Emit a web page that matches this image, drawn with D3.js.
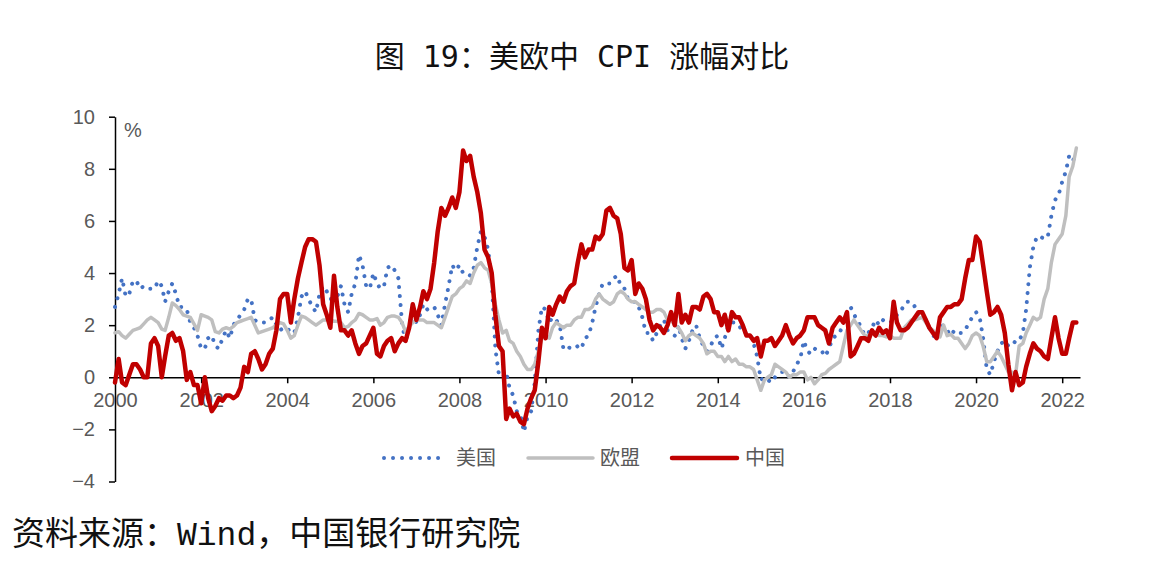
<!DOCTYPE html>
<html>
<head>
<meta charset="utf-8">
<script src="https://cdn.jsdelivr.net/npm/d3@7"></script>
<style>
  body { margin: 0; background: #fff; }
  text { fill: #595959; }
</style>
</head>
<body>
<div class="canvas"></div>
<script>
// monthly data, Jan 2000 - May 2022 (YoY %)
const start = new Date(2000, 0, 1);

const usCpi = [
  2.7, 3.2, 3.8, 3.1, 3.2, 3.7, 3.7, 3.4, 3.5, 3.4, 3.4, 3.4,
  3.7, 3.5, 2.9, 3.3, 3.6, 3.2, 2.7, 2.7, 2.6, 2.1, 1.9, 1.6,
  1.1, 1.1, 1.5, 1.6, 1.2, 1.1, 1.5, 1.8, 1.5, 2.0, 2.2, 2.4,
  2.6, 3.0, 3.0, 2.2, 2.1, 2.1, 2.1, 2.2, 2.3, 2.0, 1.8, 1.9,
  1.9, 1.7, 1.7, 2.3, 3.1, 3.3, 3.0, 2.7, 2.5, 3.2, 3.5, 3.3,
  3.0, 3.0, 3.1, 3.5, 2.8, 2.5, 3.2, 3.6, 4.7, 4.3, 3.5, 3.4,
  4.0, 3.6, 3.4, 3.5, 4.2, 4.3, 4.1, 3.8, 2.1, 1.3, 2.0, 2.5,
  2.1, 2.4, 2.8, 2.6, 2.7, 2.7, 2.4, 2.0, 2.8, 3.5, 4.3, 4.1,
  4.3, 4.0, 4.0, 3.9, 4.2, 5.0, 5.6, 5.4, 4.9, 3.7, 1.1, 0.1,
  0.0, 0.2, -0.4, -0.7, -1.3, -1.4, -2.1, -1.5, -1.3, -0.2, 1.8, 2.7,
  2.6, 2.1, 2.3, 2.2, 2.0, 1.1, 1.2, 1.1, 1.1, 1.2, 1.1, 1.5,
  1.6, 2.1, 2.7, 3.2, 3.6, 3.6, 3.6, 3.8, 3.9, 3.5, 3.4, 3.0,
  2.9, 2.9, 2.7, 2.3, 1.7, 1.7, 1.4, 1.7, 2.0, 2.2, 1.8, 1.7,
  1.6, 2.0, 1.5, 1.1, 1.4, 1.8, 2.0, 1.5, 1.2, 1.0, 1.2, 1.5,
  1.6, 1.1, 1.5, 2.0, 2.1, 2.1, 2.0, 1.7, 1.7, 1.7, 1.3, 0.8,
  -0.1, 0.0, -0.1, -0.2, 0.0, 0.1, 0.2, 0.2, 0.0, 0.2, 0.5, 0.7,
  1.4, 1.0, 0.9, 1.1, 1.0, 1.0, 0.8, 1.1, 1.5, 1.6, 1.7, 2.1,
  2.5, 2.7, 2.4, 2.2, 1.9, 1.6, 1.7, 1.9, 2.2, 2.0, 2.2, 2.1,
  2.1, 2.2, 2.4, 2.5, 2.8, 2.9, 2.9, 2.7, 2.3, 2.5, 2.2, 1.9,
  1.6, 1.5, 1.9, 2.0, 1.8, 1.6, 1.8, 1.7, 1.7, 1.8, 2.1, 2.3,
  2.5, 2.3, 1.5, 0.3, 0.1, 0.6, 1.0, 1.3, 1.4, 1.2, 1.2, 1.4,
  1.4, 1.7, 2.6, 4.2, 5.0, 5.4, 5.4, 5.3, 5.4, 6.2, 6.8, 7.0,
  7.5, 7.9, 8.5, 8.3, 8.6
];

const euCpi = [
  1.7, 1.75, 1.6, 1.5, 1.65, 1.8, 1.85, 1.9, 2.05, 2.2, 2.3, 2.2,
  2.1, 1.85, 1.8, 2.3, 2.85, 2.75, 2.6, 2.4, 2.35, 2.3, 2.05, 1.8,
  2.4, 2.35, 2.3, 2.2, 1.75, 1.7, 1.85, 1.9, 1.85, 1.95, 2.1, 2.15,
  2.2, 2.25, 2.3, 2.0, 1.7, 1.75, 1.8, 1.85, 1.9, 2.0, 2.1, 2.05,
  1.8, 1.5, 1.6, 2.0, 2.35, 2.3, 2.2, 2.1, 2.0, 2.1, 2.2, 2.2,
  2.2, 2.15, 2.15, 2.1, 1.9, 1.95, 2.1, 2.2, 2.45, 2.4, 2.3, 2.2,
  2.2, 2.25, 2.0, 2.1, 2.3, 2.35, 2.35, 2.3, 2.1, 1.75, 1.95, 2.1,
  2.2, 2.2, 2.2, 2.1, 2.1, 2.1, 2.0, 1.9, 2.3, 2.7, 3.1, 3.2,
  3.4, 3.5, 3.7, 3.6, 4.0, 4.3, 4.4, 4.2, 4.1, 3.6, 2.8, 2.2,
  1.7, 1.8, 1.4, 1.3, 1.0, 0.8, 0.5, 0.3, 0.3, 0.5, 1.0, 1.5,
  1.6, 1.5, 1.9, 2.1, 2.0, 1.9, 2.0, 2.0, 2.2, 2.3, 2.3, 2.6,
  2.6, 2.7, 3.0, 3.2, 3.0, 2.9, 2.8, 2.9, 3.2, 3.3, 3.2, 3.0,
  2.9, 2.9, 2.8, 2.7, 2.6, 2.5, 2.5, 2.6, 2.6, 2.5, 2.2, 2.2,
  2.0, 1.9, 1.7, 1.4, 1.6, 1.7, 1.6, 1.5, 1.3, 0.9, 1.0, 1.0,
  0.8, 0.8, 0.6, 0.8, 0.6, 0.7, 0.5, 0.5, 0.4, 0.4, 0.3, -0.1,
  -0.5, -0.1, 0.0, 0.1, 0.5, 0.4, 0.3, 0.2, 0.0, 0.1, 0.1, 0.2,
  0.2, -0.1, 0.0, -0.25, -0.1, 0.1, 0.15, 0.3, 0.4, 0.5, 0.6, 1.2,
  1.8, 2.0, 2.2, 2.0, 1.8, 1.6, 1.6, 1.7, 1.7, 1.6, 1.6, 1.55,
  1.6, 1.5, 1.5, 1.5, 1.9, 2.05, 2.2, 2.2, 2.25, 2.3, 2.1, 1.9,
  1.8, 1.6, 1.55, 2.0, 1.6, 1.65, 1.5, 1.5, 1.3, 1.1, 1.3, 1.6,
  1.7, 1.6, 1.2, 0.6, 0.6, 0.8, 1.0, 0.8, 0.5, 0.2, 0.2, 0.1,
  1.2, 1.3, 1.7, 2.0, 2.3, 2.2, 2.3, 3.0, 3.4, 4.4, 5.1, 5.3,
  5.5, 6.2, 7.7, 8.1, 8.8
];

const cnCpi = [
  -0.2, 0.7, -0.2, -0.3, 0.1, 0.5, 0.5, 0.3, 0.0, 0.0, 1.3, 1.5,
  1.2, 0.0, 0.8, 1.6, 1.7, 1.4, 1.5, 1.0, -0.1, 0.2, -0.3, -0.3,
  -1.0, 0.0, -0.8, -1.3, -1.1, -0.8, -0.9, -0.7, -0.7, -0.8, -0.7, -0.4,
  0.4, 0.2, 0.9, 1.0, 0.7, 0.3, 0.5, 0.9, 1.1, 1.8, 3.0, 3.2,
  3.2, 2.1, 3.0, 3.8, 4.4, 5.0, 5.3, 5.3, 5.2, 4.3, 2.8, 2.4,
  1.9, 3.9, 2.7, 1.8, 1.8, 1.6, 1.8, 1.3, 0.9, 1.2, 1.3, 1.6,
  1.9, 0.9, 0.8, 1.2, 1.4, 1.5, 1.0, 1.3, 1.5, 1.4, 1.9, 2.8,
  2.2, 2.7, 3.3, 3.0, 3.4, 4.4, 5.6, 6.5, 6.2, 6.5, 6.9, 6.5,
  7.1, 8.7, 8.3, 8.5, 7.7, 7.1, 6.3, 4.9, 4.6, 4.0, 2.4, 1.2,
  1.0, -1.6, -1.2, -1.5, -1.4, -1.7, -1.8, -1.2, -0.8, -0.5, 0.6, 1.9,
  1.5, 2.7, 2.4, 2.8, 3.1, 2.9, 3.3, 3.5, 3.6, 4.4, 5.1, 4.6,
  4.9, 4.9, 5.4, 5.3, 5.5, 6.4, 6.5, 6.2, 6.1, 5.5, 4.2, 4.1,
  4.5, 3.2, 3.6, 3.4, 3.0, 2.2, 1.8, 2.0, 1.9, 1.7, 2.0, 2.5,
  2.0, 3.2, 2.1, 2.4, 2.1, 2.7, 2.7, 2.6, 3.1, 3.2, 3.0, 2.5,
  2.5, 2.0, 2.4, 1.8, 2.5, 2.3, 2.3, 2.0, 1.6, 1.6, 1.4, 1.5,
  0.8, 1.4, 1.4, 1.5, 1.2, 1.4, 1.6, 2.0, 1.6, 1.3, 1.5, 1.6,
  1.8, 2.3, 2.3, 2.3, 2.0, 1.9, 1.8, 1.3, 1.9, 2.1, 2.3, 2.1,
  2.5, 0.8, 0.9, 1.2, 1.5, 1.5, 1.4, 1.8, 1.6, 1.9, 1.7, 1.8,
  1.5, 2.9, 2.1, 1.8, 1.8, 1.9, 2.1, 2.3, 2.5, 2.5, 2.2, 1.9,
  1.7, 1.5, 2.3, 2.5, 2.7, 2.7, 2.8, 2.8, 3.0, 3.8, 4.5, 4.5,
  5.4, 5.2, 4.3, 3.3, 2.4, 2.5, 2.7, 2.4, 1.7, 0.5, -0.5, 0.2,
  -0.3, -0.2, 0.4, 0.9, 1.3, 1.1, 1.0, 0.8, 0.7, 1.5, 2.3, 1.5,
  0.9, 0.9, 1.5, 2.1, 2.1
];

const seriesNames = ['美国', '欧盟', '中国'];
const yTicks = [-4, -2, 0, 2, 4, 6, 8, 10];
const xTickYears = [2000, 2002, 2004, 2006, 2008, 2010, 2012, 2014, 2016, 2018, 2020, 2022];

const monthDate = i => new Date(2000, i, 1);

// main svg
const svg = d3.select('.canvas').append('svg')
    .attr('width', 1170)
    .attr('height', 572);

// plot box
const plot = {left: 115, right: 1080, top: 116.7, bottom: 481.5};

const x = d3.scaleTime()
    .domain([start, new Date(2022, 5, 1)])
    .range([plot.left, plot.right]);
const y = d3.scaleLinear()
    .domain([-4, 10])
    .range([plot.bottom, plot.top]);

// title
svg.append('text')
    .attr('x', 582)
    .attr('y', 67)
    .attr('text-anchor', 'middle')
    .style('font-family', '"DejaVu Sans Mono", "Noto Sans CJK SC", sans-serif')
    .style('font-size', '30px')
    .style('fill', '#111')
    .text('图 19：美欧中 CPI 涨幅对比');

// y axis
const yAxis = d3.axisLeft(y)
    .tickValues(yTicks)
    .tickSize(6)
    .tickSizeOuter(0)
    .tickPadding(14);
const yAxisGroup = svg.append('g')
    .attr('transform', `translate(${plot.left}, 0)`)
    .call(yAxis);

// x axis at zero
const xAxis = d3.axisBottom(x)
    .tickValues(xTickYears.map(yr => new Date(yr, 0, 1)))
    .tickFormat(d3.timeFormat('%Y'))
    .tickSize(6)
    .tickSizeOuter(0)
    .tickPadding(9);
const xAxisGroup = svg.append('g')
    .attr('transform', `translate(0, ${y(0)})`)
    .call(xAxis);

[xAxisGroup, yAxisGroup].forEach(g => {
  g.select('.domain').attr('stroke', '#000').attr('stroke-width', 1.5);
  g.selectAll('.tick line').attr('stroke', '#000').attr('stroke-width', 1.5);
  g.selectAll('.tick text')
      .style('font-family', '"Liberation Sans", "Open Sans", sans-serif')
      .style('font-size', '20px')
      .style('fill', '#595959');
});
xAxisGroup.selectAll('.tick text').attr('dy', '0.75em');

// unit
svg.append('text')
    .attr('x', 124)
    .attr('y', 137)
    .style('font-family', '"Liberation Sans", sans-serif')
    .style('font-size', '20px')
    .text('%');

// lines
const line = d3.line()
    .x((d, i) => x(monthDate(i)))
    .y(d => y(d));

const styles = [
  {data: usCpi, color: '#4472C4', width: 4, dash: '0.01 9'},
  {data: euCpi, color: '#BFBFBF', width: 3.5, dash: null},
  {data: cnCpi, color: '#C00000', width: 4.5, dash: null}
];

styles.forEach(s => {
  svg.append('path')
      .datum(s.data)
      .attr('fill', 'none')
      .attr('stroke', s.color)
      .attr('stroke-width', s.width)
      .attr('stroke-linejoin', 'round')
      .attr('stroke-linecap', 'round')
      .attr('stroke-dasharray', s.dash)
      .attr('d', line);
});

// legend
const legendPos = [
  {x1: 384, x2: 440, tx: 456},
  {x1: 528, x2: 593, tx: 600},
  {x1: 672, x2: 737, tx: 745}
];
const legend = svg.append('g');
styles.forEach((s, i) => {
  const p = legendPos[i];
  legend.append('line')
      .attr('x1', p.x1).attr('x2', p.x2)
      .attr('y1', 458).attr('y2', 458)
      .attr('stroke', s.color)
      .attr('stroke-width', s.width)
      .attr('stroke-linecap', 'round')
      .attr('stroke-dasharray', s.dash);
  legend.append('text')
      .attr('x', p.tx)
      .attr('y', 465)
      .style('font-family', '"Noto Sans CJK SC", sans-serif')
      .style('font-size', '20px')
      .text(seriesNames[i]);
});

// source
svg.append('text')
    .attr('x', 12)
    .attr('y', 545)
    .style('font-family', '"Liberation Mono", "Noto Sans CJK SC", monospace')
    .style('font-size', '33px')
    .style('fill', '#111')
    .text('资料来源：Wind，中国银行研究院');
</script>
</body>
</html>
